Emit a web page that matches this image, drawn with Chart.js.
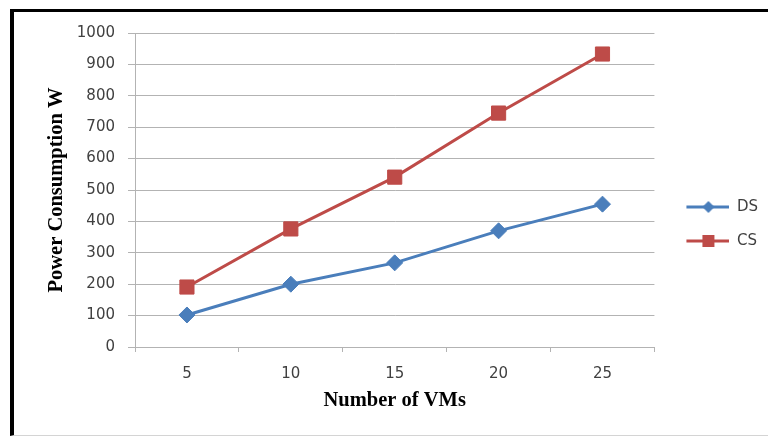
<!DOCTYPE html>
<html>
<head>
<meta charset="utf-8">
<script src="https://cdn.jsdelivr.net/npm/chart.js@4/dist/chart.umd.min.js"></script>
<style>
  html, body { margin: 0; padding: 0; background: #fff; }
  #wrap { position: relative; width: 768px; height: 436px; overflow: hidden; }
  #frame {
    position: absolute; left: 10px; top: 9px; width: 800px; height: 423px;
    border-top: 3px solid #000; border-left: 4px solid #000; border-bottom: 1px solid #d4d4d4;
  }
  #chart { position: absolute; left: 0; top: 0; }
</style>
</head>
<body>
<div id="wrap">
  <div id="frame"></div>
  <canvas id="chart" width="768" height="436"></canvas>
</div>
<script>
// values
var vmCounts = ["5", "10", "15", "20", "25"];
var dsPower = [102, 200, 268, 370, 455];
var csPower = [191, 376, 541, 745, 933];

var blue = '#4a7ebb';
var red = '#be4b48';
var grid = '#b3b3b3';
var tickFont = { family: 'DejaVu Sans', size: 15 };
var titleFont = { family: 'Liberation Serif', size: 20.5, weight: 'bold' };

// legend sample: line with the marker in the middle
function legendIcon(color, shape) {
  var c = document.createElement('canvas');
  c.width = 56; c.height = 20;
  var g = c.getContext('2d');
  g.strokeStyle = color;
  g.fillStyle = color;
  g.lineWidth = 3;
  g.beginPath();
  g.moveTo(13, 10); g.lineTo(56, 10);
  g.stroke();
  g.beginPath();
  if (shape == 'diamond') {
    g.moveTo(35, 4); g.lineTo(41, 10); g.lineTo(35, 16); g.lineTo(29, 10);
  } else {
    g.rect(29, 4, 12, 12);
  }
  g.closePath();
  g.fill();
  return c;
}

var ctx = document.getElementById('chart').getContext('2d');
var chart = new Chart(ctx, {
  type: 'line',
  data: {
    labels: vmCounts,
    datasets: [{
      label: 'DS',
      data: dsPower,
      borderColor: blue,
      backgroundColor: blue,
      borderWidth: 3,
      pointStyle: 'rectRot',
      pointRadius: 8,
      pointBorderWidth: 1,
      fill: false,
      legendIcon: legendIcon(blue, 'diamond')
    }, {
      label: 'CS',
      data: csPower,
      borderColor: red,
      backgroundColor: red,
      borderWidth: 3,
      pointStyle: 'rect',
      pointRadius: 10,
      pointBorderWidth: 1,
      fill: false,
      legendIcon: legendIcon(red, 'square')
    }]
  },
  options: {
    responsive: false,
    animation: false,
    layout: { padding: { left: 0, top: 33, right: 0, bottom: 21 } },
    plugins: {
      tooltip: { enabled: false },
      legend: {
        position: 'right',
        labels: {
          usePointStyle: true,
          pointStyleWidth: 56,
          padding: 19,
          color: '#404040',
          font: tickFont,
          generateLabels: function(ch) {
            return ch.data.datasets.map(function(ds, i) {
              return {
                text: ds.label,
                pointStyle: ds.legendIcon,
                fillStyle: ds.backgroundColor,
                strokeStyle: ds.borderColor,
                lineWidth: 0,
                fontColor: '#404040',
                hidden: false,
                datasetIndex: i
              };
            });
          }
        }
      }
    },
    scales: {
      x: {
        offset: true,
        afterFit: function(s) { s.height = 68; },
        grid: { offset: true, drawOnChartArea: false, color: grid, tickLength: 5 },
        border: { color: grid },
        ticks: { color: '#404040', font: tickFont, padding: 13 },
        title: { display: true, text: 'Number of VMs', color: '#000', font: titleFont, padding: { top: 0, bottom: 2 } }
      },
      y: {
        min: 0,
        max: 1000,
        afterFit: function(s) { s.width = 135; },
        grid: { color: grid, tickLength: 7 },
        border: { color: grid },
        ticks: {
          stepSize: 100, color: '#404040', font: tickFont, padding: 13,
          callback: function(v) { return String(v); }
        },
        title: { display: true, text: 'Power Consumption W', color: '#000', font: titleFont, padding: { top: 44, bottom: 0 } }
      }
    }
  }
});
</script>
</body>
</html>
